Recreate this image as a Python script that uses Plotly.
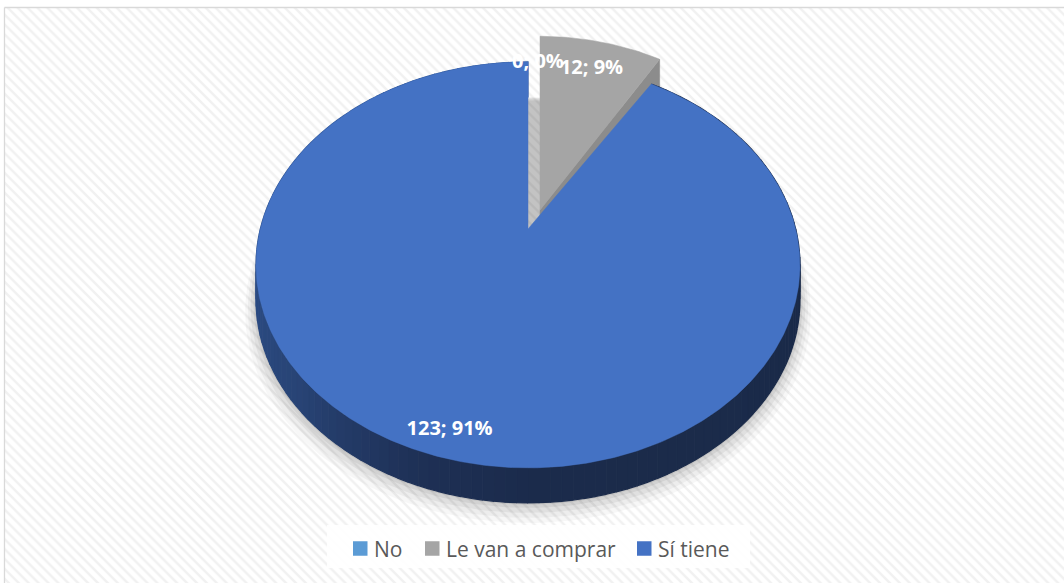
import numpy as np
import plotly.graph_objects as go

# ---------------- data ----------------
CATEGORIES = ["No", "Le van a comprar", "Sí tiene"]
COUNTS = [0, 12, 123]
COLORS = ["#5B9BD5", "#A5A5A5", "#4472C4"]

# ---------------- style ----------------
W, H = 1064, 583
CX, CY = 528.0, 229.0        # projected pie centre (pixels)
SX, SY = 267.7, 196.6        # projection scales
K = 0.177                    # perspective strength
DEPTH = 35.0                 # pie thickness in pixels
EXPLODE = [0.0, 0.1085, 0.0]
EXPLODE_SCALE = (0.97, 1.04)
LABEL_R = [1.0, 0.82, 0.9]
LABEL_NUDGE = [(10, 1), (0, 0), (0, 0)]
CUT_COLOR = {1: "#8C8C8C"}
SIDE_STOPS_DEG = [90, 180, 200, 230, 300, 360]
SIDE_STOPS_RGB = [(26, 42, 72), (27, 43, 75), (30, 48, 86), (40, 68, 118), (48, 86, 150), (52, 92, 160)]
FONT = "Open Sans"
LEGEND_BOX = (327, 525, 750, 568)
LEGEND_X = [353, 425, 637]
LEGEND_Y = 548.5
SWATCH = 14.5


def base_proj(theta_deg, r, off=(0.0, 0.0)):
    t = np.radians(theta_deg)
    p = r * np.sin(t) + off[0]
    q = r * np.cos(t) + off[1]
    w = 1.0 + K * q
    return CX + SX * p / w, CY - SY * q / w


total = float(sum(COUNTS))
spans = [360.0 * c / total for c in COUNTS]
starts = np.concatenate([[0.0], np.cumsum(spans)[:-1]])


def slice_proj(i, theta_deg, r):
    """Projected point of slice i, with explosion applied."""
    bx, by = base_proj(theta_deg, r)
    if EXPLODE[i] == 0:
        return bx, by
    mid = np.radians(starts[i] + spans[i] / 2.0 + 8.9)
    off = (EXPLODE[i] * np.sin(mid), EXPLODE[i] * np.cos(mid))
    ax, ay = base_proj(0.0, 0.0, off)
    return ax + EXPLODE_SCALE[0] * (bx - CX), ay + EXPLODE_SCALE[1] * (by - CY)


def side_rgb(theta):
    th = theta % 360
    ch = [np.interp(th, SIDE_STOPS_DEG, [c[k] for c in SIDE_STOPS_RGB]) for k in range(3)]
    return "rgb(%d,%d,%d)" % tuple(int(round(v)) for v in ch)


fig = go.Figure()

# background hatch
fig.add_trace(go.Scatter(
    x=[4.5, 1070, 1070, 4.5, 4.5], y=[7.5, 7.5, 590, 590, 7.5],
    mode="lines", fill="toself", line=dict(color="#D9D9D9", width=1.3),
    fillcolor="white",
    fillpattern=dict(shape="\\", fgcolor="#E3E3E3", bgcolor="white", size=7, solidity=0.35),
    hoverinfo="skip", showlegend=False))

# soft shadow under the pie
th_full = np.linspace(0, 360, 241)
for j, (grow, dy, a) in enumerate([(1.04, 12, 0.03), (1.03, 9, 0.04), (1.02, 6, 0.05),
                                   (1.01, 3, 0.06), (1.004, 1, 0.07)]):
    px, py = base_proj(th_full, 1.0)
    sx = CX + (px - CX) * grow
    sy = 265 + (py - 265) * grow + DEPTH + dy
    fig.add_trace(go.Scatter(x=sx, y=sy, mode="lines", fill="toself",
                             line=dict(width=0), fillcolor="rgba(0,0,0,%.3f)" % a,
                             hoverinfo="skip", showlegend=False))

# draw exploded (far) slices first, then the main slice
order = sorted(range(len(COUNTS)), key=lambda i: -EXPLODE[i])
for i in order:
    if COUNTS[i] == 0:
        continue
    a0, a1 = starts[i], starts[i] + spans[i]
    if EXPLODE[i] == 0:
        # outer side band, shaded by angle
        edges = np.linspace(a0, a1, 165)
        for s in range(len(edges) - 1):
            ta = np.linspace(edges[s], edges[s + 1], 3)
            tx, ty = slice_proj(i, ta, 1.0)
            xs = np.concatenate([tx, tx[::-1]])
            ys = np.concatenate([ty, ty[::-1] + DEPTH])
            col = side_rgb((edges[s] + edges[s + 1]) / 2)
            fig.add_trace(go.Scatter(x=xs, y=ys, mode="lines", fill="toself",
                                     line=dict(color=col, width=1.2), fillcolor=col,
                                     hoverinfo="skip", showlegend=False))
    else:
        # cut face at the clockwise end of the slice
        cx0, cy0 = slice_proj(i, a1, 0.0)
        cx1, cy1 = slice_proj(i, a1, 1.0)
        fig.add_trace(go.Scatter(
            x=[cx0, cx1, cx1, cx0, cx0], y=[cy0, cy1, cy1 + DEPTH, cy0 + DEPTH, cy0],
            mode="lines", fill="toself", line=dict(color=CUT_COLOR[i], width=0.5),
            fillcolor=CUT_COLOR[i], hoverinfo="skip", showlegend=False))
    # top face
    ta = np.linspace(a0, a1, max(8, int(spans[i] * 2)))
    tx, ty = slice_proj(i, ta, 1.0)
    ox, oy = slice_proj(i, 0.0, 0.0)
    fig.add_trace(go.Scatter(
        x=np.concatenate([[ox], tx, [ox]]), y=np.concatenate([[oy], ty, [oy]]),
        mode="lines", fill="toself", line=dict(color=COLORS[i], width=0.5),
        fillcolor=COLORS[i], name=CATEGORIES[i], hoverinfo="name", showlegend=False))

# data labels
lx, ly, lt = [], [], []
for i in range(len(COUNTS)):
    mid = starts[i] + spans[i] / 2.0
    x, y = slice_proj(i, mid, LABEL_R[i])
    lx.append(x + LABEL_NUDGE[i][0])
    ly.append(y + LABEL_NUDGE[i][1])
    lt.append("%d; %d%%" % (COUNTS[i], round(100 * COUNTS[i] / total)))
fig.add_trace(go.Scatter(x=lx, y=ly, text=lt, mode="text",
                         textfont=dict(family=FONT, size=20, color="white", weight="bold"),
                         hoverinfo="skip", showlegend=False))

# legend (box, swatches, texts)
shapes = [dict(type="rect", xref="x", yref="y", x0=LEGEND_BOX[0], y0=LEGEND_BOX[1],
               x1=LEGEND_BOX[2], y1=LEGEND_BOX[3], fillcolor="rgba(255,255,255,0.88)",
               line=dict(width=0), layer="above")]
annotations = []
for name, col, x0 in zip(CATEGORIES, COLORS, LEGEND_X):
    shapes.append(dict(type="rect", xref="x", yref="y", x0=x0, x1=x0 + SWATCH,
                       y0=LEGEND_Y - SWATCH / 2, y1=LEGEND_Y + SWATCH / 2,
                       fillcolor=col, line=dict(width=0), layer="above"))
    annotations.append(dict(x=x0 + SWATCH + 4, y=LEGEND_Y, xref="x", yref="y", text=name,
                            showarrow=False, xanchor="left", yanchor="middle",
                            font=dict(family=FONT, size=21, color="#595959")))

fig.update_layout(
    width=W, height=H, margin=dict(l=0, r=0, t=0, b=0),
    paper_bgcolor="white", plot_bgcolor="white",
    xaxis=dict(range=[0, W], visible=False, fixedrange=True),
    yaxis=dict(range=[H, 0], visible=False, fixedrange=True),
    showlegend=False, shapes=shapes, annotations=annotations,
)

fig.write_html("out.html", config={"displayModeBar": False},
               post_script="document.body.style.margin='0';")
